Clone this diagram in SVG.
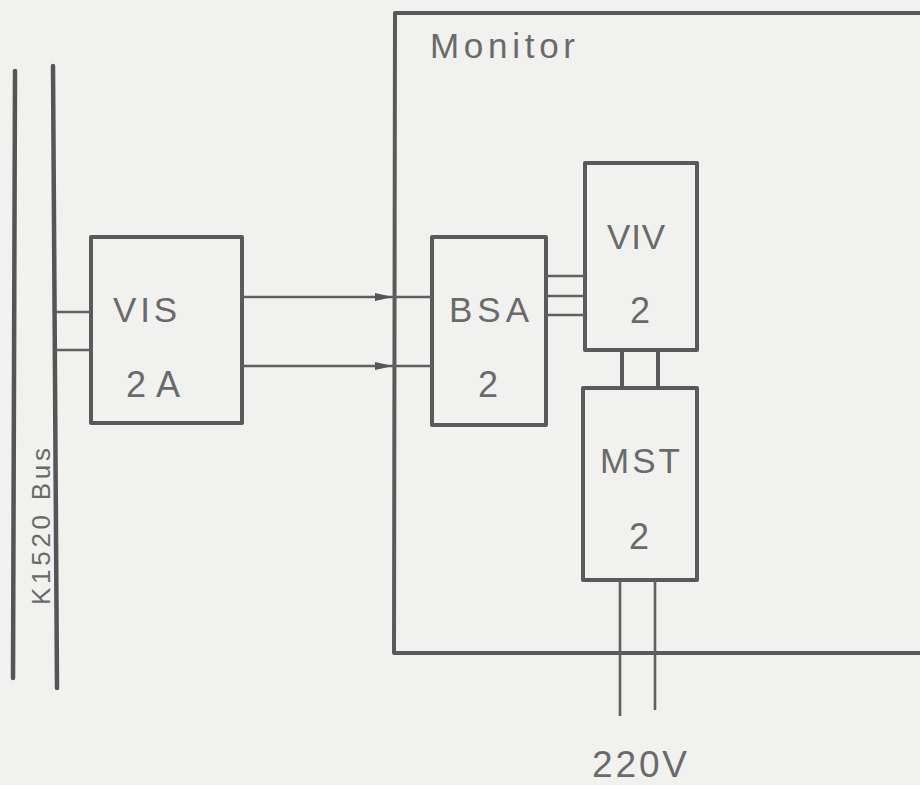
<svg xmlns="http://www.w3.org/2000/svg" width="920" height="785" viewBox="0 0 920 785">
<style>
.box{fill:none;stroke:#5a5a5a;stroke-width:4;stroke-linejoin:round}
.bus{fill:none;stroke:#555;stroke-width:4.5;stroke-linecap:round}
.wire{fill:none;stroke:#606060;stroke-width:2.6}
.lbl{font-family:"Liberation Sans",Arial,sans-serif;fill:#6a6a6a}
</style>
<defs>
<marker id="arr" markerUnits="userSpaceOnUse" markerWidth="20" markerHeight="10" refX="19" refY="5" orient="auto">
<path d="M1,1 L19,5 L1,9 Z" fill="#555"/>
</marker>
</defs>
<rect x="0" y="0" width="920" height="785" fill="#f1f1ef"/>

<g id="bus">
<line class="bus" x1="15" y1="71" x2="13" y2="678"/>
<line class="bus" x1="53" y1="66" x2="57" y2="688"/>
<text class="lbl" font-size="26" transform="translate(50,605) rotate(-90)" x="0" y="0" textLength="157" lengthAdjust="spacing">K1520 Bus</text>
</g>

<g id="monitor">
<path class="box" d="M925,13 L395,13 L394,653 L925,653"/>
<text class="lbl" font-size="35" x="430" y="58" textLength="145" lengthAdjust="spacing">Monitor</text>
</g>

<g id="vis">
<rect class="box" x="91" y="237" width="151" height="186"/>
<text class="lbl" font-size="35" x="113" y="322" textLength="64" lengthAdjust="spacing">VIS</text>
<text class="lbl" font-size="36" x="126" y="397" textLength="54" lengthAdjust="spacing">2A</text>
</g>

<g id="bsa">
<rect class="box" x="432" y="237" width="114" height="188"/>
<text class="lbl" font-size="35" x="449" y="322" textLength="80" lengthAdjust="spacing">BSA</text>
<text class="lbl" font-size="36" x="488" y="397" text-anchor="middle">2</text>
</g>

<g id="viv">
<rect class="box" x="585" y="163" width="112" height="187"/>
<text class="lbl" font-size="35" x="607" y="249" textLength="58" lengthAdjust="spacing">VIV</text>
<text class="lbl" font-size="36" x="640" y="323" text-anchor="middle">2</text>
</g>

<g id="mst">
<rect class="box" x="583" y="388" width="114" height="192"/>
<text class="lbl" font-size="35" x="600" y="473" textLength="80" lengthAdjust="spacing">MST</text>
<text class="lbl" font-size="36" x="639" y="549" text-anchor="middle">2</text>
</g>

<g id="v220">
<text class="lbl" font-size="37" x="592" y="777" textLength="95" lengthAdjust="spacing">220V</text>
</g>

<g id="connectors">
<line class="wire" x1="55" y1="312" x2="91" y2="312"/>
<line class="wire" x1="55" y1="350" x2="91" y2="350"/>
<line class="wire" x1="242" y1="297" x2="393" y2="297" marker-end="url(#arr)"/>
<line class="wire" x1="393" y1="297" x2="432" y2="297"/>
<line class="wire" x1="242" y1="366" x2="393" y2="366" marker-end="url(#arr)"/>
<line class="wire" x1="393" y1="366" x2="432" y2="366"/>
<line class="wire" x1="546" y1="276" x2="585" y2="276"/>
<line class="wire" x1="546" y1="296" x2="585" y2="296"/>
<line class="wire" x1="546" y1="315" x2="585" y2="315"/>
<line class="box" x1="622" y1="350" x2="622" y2="388"/>
<line class="box" x1="658" y1="350" x2="658" y2="388"/>
<line class="wire" x1="620" y1="580" x2="620" y2="716"/>
<line class="wire" x1="655" y1="580" x2="655" y2="710"/>
</g>
</svg>
